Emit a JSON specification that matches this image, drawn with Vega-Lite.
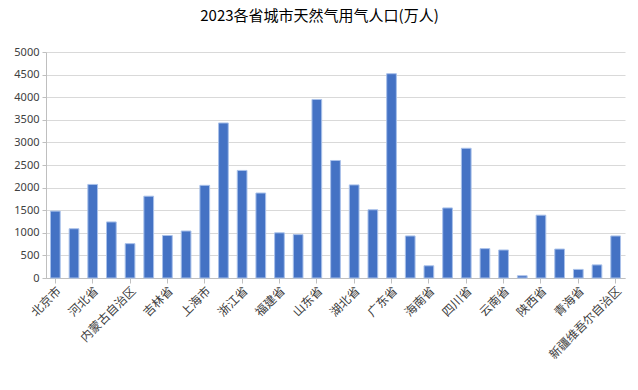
{
  "$schema": "https://vega.github.io/schema/vega-lite/v6.json",
  "width": 579,
  "height": 226,
  "autosize": {"type": "none"},
  "padding": {"left": 46, "top": 52, "right": 13, "bottom": 112},
  "background": "white",
  "title": {
    "text": "2023各省城市天然气用气人口(万人)",
    "font": "Noto Sans CJK SC",
    "fontSize": 15,
    "fontWeight": "normal",
    "color": "#000000",
    "anchor": "middle",
    "dx": -16,
    "offset": 22
  },
  "data": {
    "values": [
      {"province": "北京市", "value": 1480},
      {"province": "天津市", "value": 1090},
      {"province": "河北省", "value": 2070},
      {"province": "山西省", "value": 1240},
      {"province": "内蒙古自治区", "value": 760},
      {"province": "辽宁省", "value": 1810},
      {"province": "吉林省", "value": 940},
      {"province": "黑龙江省", "value": 1040},
      {"province": "上海市", "value": 2050},
      {"province": "江苏省", "value": 3430},
      {"province": "浙江省", "value": 2380},
      {"province": "安徽省", "value": 1880},
      {"province": "福建省", "value": 1000},
      {"province": "江西省", "value": 960},
      {"province": "山东省", "value": 3950},
      {"province": "河南省", "value": 2600},
      {"province": "湖北省", "value": 2060},
      {"province": "湖南省", "value": 1510},
      {"province": "广东省", "value": 4520},
      {"province": "广西壮族自治区", "value": 930},
      {"province": "海南省", "value": 270},
      {"province": "重庆市", "value": 1550},
      {"province": "四川省", "value": 2870},
      {"province": "贵州省", "value": 650},
      {"province": "云南省", "value": 620},
      {"province": "西藏自治区", "value": 50},
      {"province": "陕西省", "value": 1390},
      {"province": "甘肃省", "value": 640},
      {"province": "青海省", "value": 190},
      {"province": "宁夏回族自治区", "value": 290},
      {"province": "新疆维吾尔自治区", "value": 930}
    ]
  },
  "mark": {"type": "bar", "color": "#4472C4", "stroke": "#A9C1EA", "strokeWidth": 1},
  "encoding": {
    "x": {
      "field": "province",
      "type": "nominal",
      "sort": null,
      "scale": {"paddingInner": 0.48, "paddingOuter": 0.24},
      "axis": {
        "title": null,
        "values": ["北京市", "河北省", "内蒙古自治区", "吉林省", "上海市", "浙江省", "福建省", "山东省", "湖北省", "广东省", "海南省", "四川省", "云南省", "陕西省", "青海省", "新疆维吾尔自治区"],
        "labelAngle": -45,
        "labelFont": "Noto Sans CJK SC",
        "labelFontSize": 12,
        "labelColor": "#404040",
        "labelPadding": 2,
        "domainColor": "#BFBFBF",
        "tickColor": "#BFBFBF",
        "tickSize": 5,
        "grid": false
      }
    },
    "y": {
      "field": "value",
      "type": "quantitative",
      "scale": {"domain": [0, 5000], "nice": false},
      "axis": {
        "title": null,
        "format": "d",
        "values": [0, 500, 1000, 1500, 2000, 2500, 3000, 3500, 4000, 4500, 5000],
        "labelFont": "Noto Sans",
        "labelFontSize": 11,
        "labelColor": "#404040",
        "labelPadding": 3,
        "domainColor": "#BFBFBF",
        "tickColor": "#BFBFBF",
        "tickSize": 4,
        "gridColor": "#D9D9D9",
        "gridWidth": 1
      }
    }
  },
  "config": {"view": {"stroke": null}}
}
